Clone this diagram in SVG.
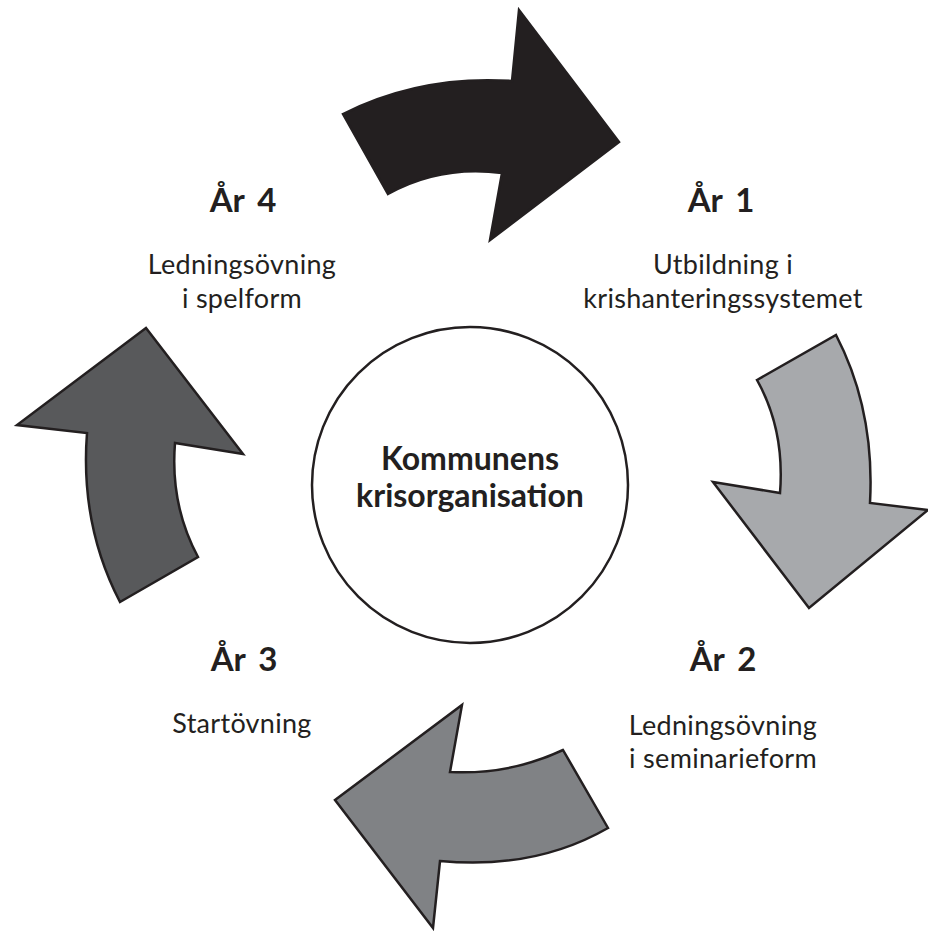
<svg xmlns="http://www.w3.org/2000/svg" width="928" height="931" viewBox="0 0 928 931">
<style>
.arrow{stroke:#231f20;stroke-width:2.5;stroke-linejoin:miter}
.h{font-family:Lato,"Liberation Sans",sans-serif;font-weight:bold;font-size:33px;word-spacing:5px;fill:#231f20;text-anchor:middle}
.t{font-family:Lato,"Liberation Sans",sans-serif;font-size:27px;letter-spacing:0.3px;fill:#231f20;text-anchor:middle}
.c{font-family:Lato,"Liberation Sans",sans-serif;font-weight:bold;font-size:32px;fill:#231f20;text-anchor:middle}
</style>
<rect width="928" height="931" fill="#ffffff"/>
<g id="connectors">
<path id="arrow-top" class="arrow" fill="#231f20" d="M343,114 Q420,75 512,81 L519,10 L619,142 L490,240 L502,173 Q440,165 388,194 Z"/>
<path id="arrow-right" class="arrow" fill="#a7a9ac" d="M757,380 L836,335 Q875,410 870,503 L928,510 L809,608 L713,482 L780,493 Q785,430 757,380 Z"/>
<path id="arrow-bottom" class="arrow" fill="#808285" d="M608,828 L563,750 Q510,775 450,772 L462,705 L335,800 L433,928 L440,861 Q535,870 608,828 Z"/>
<path id="arrow-left" class="arrow" fill="#58595b" d="M120,602 L198,557 Q170,505 175,443 L243,454 L146,328 L17,425 L87,433 Q80,525 120,602 Z"/>
</g>
<g id="center">
<circle cx="470" cy="485" r="158" fill="#ffffff" stroke="#231f20" stroke-width="2.5"/>
<text class="c" x="470" y="470">Kommunens</text>
<text class="c" x="470" y="507">krisorganisation</text>
</g>
<g id="year1">
<text class="h" x="721" y="212">År 1</text>
<text class="t" x="723" y="274">Utbildning i</text>
<text class="t" x="723" y="308">krishanteringssystemet</text>
</g>
<g id="year2">
<text class="h" x="723" y="671">År 2</text>
<text class="t" x="723" y="735">Ledningsövning</text>
<text class="t" x="723" y="768">i seminarieform</text>
</g>
<g id="year3">
<text class="h" x="244" y="671">År 3</text>
<text class="t" x="242" y="733">Startövning</text>
</g>
<g id="year4">
<text class="h" x="243" y="212">År 4</text>
<text class="t" x="242" y="274">Ledningsövning</text>
<text class="t" x="242" y="308">i spelform</text>
</g>
</svg>
